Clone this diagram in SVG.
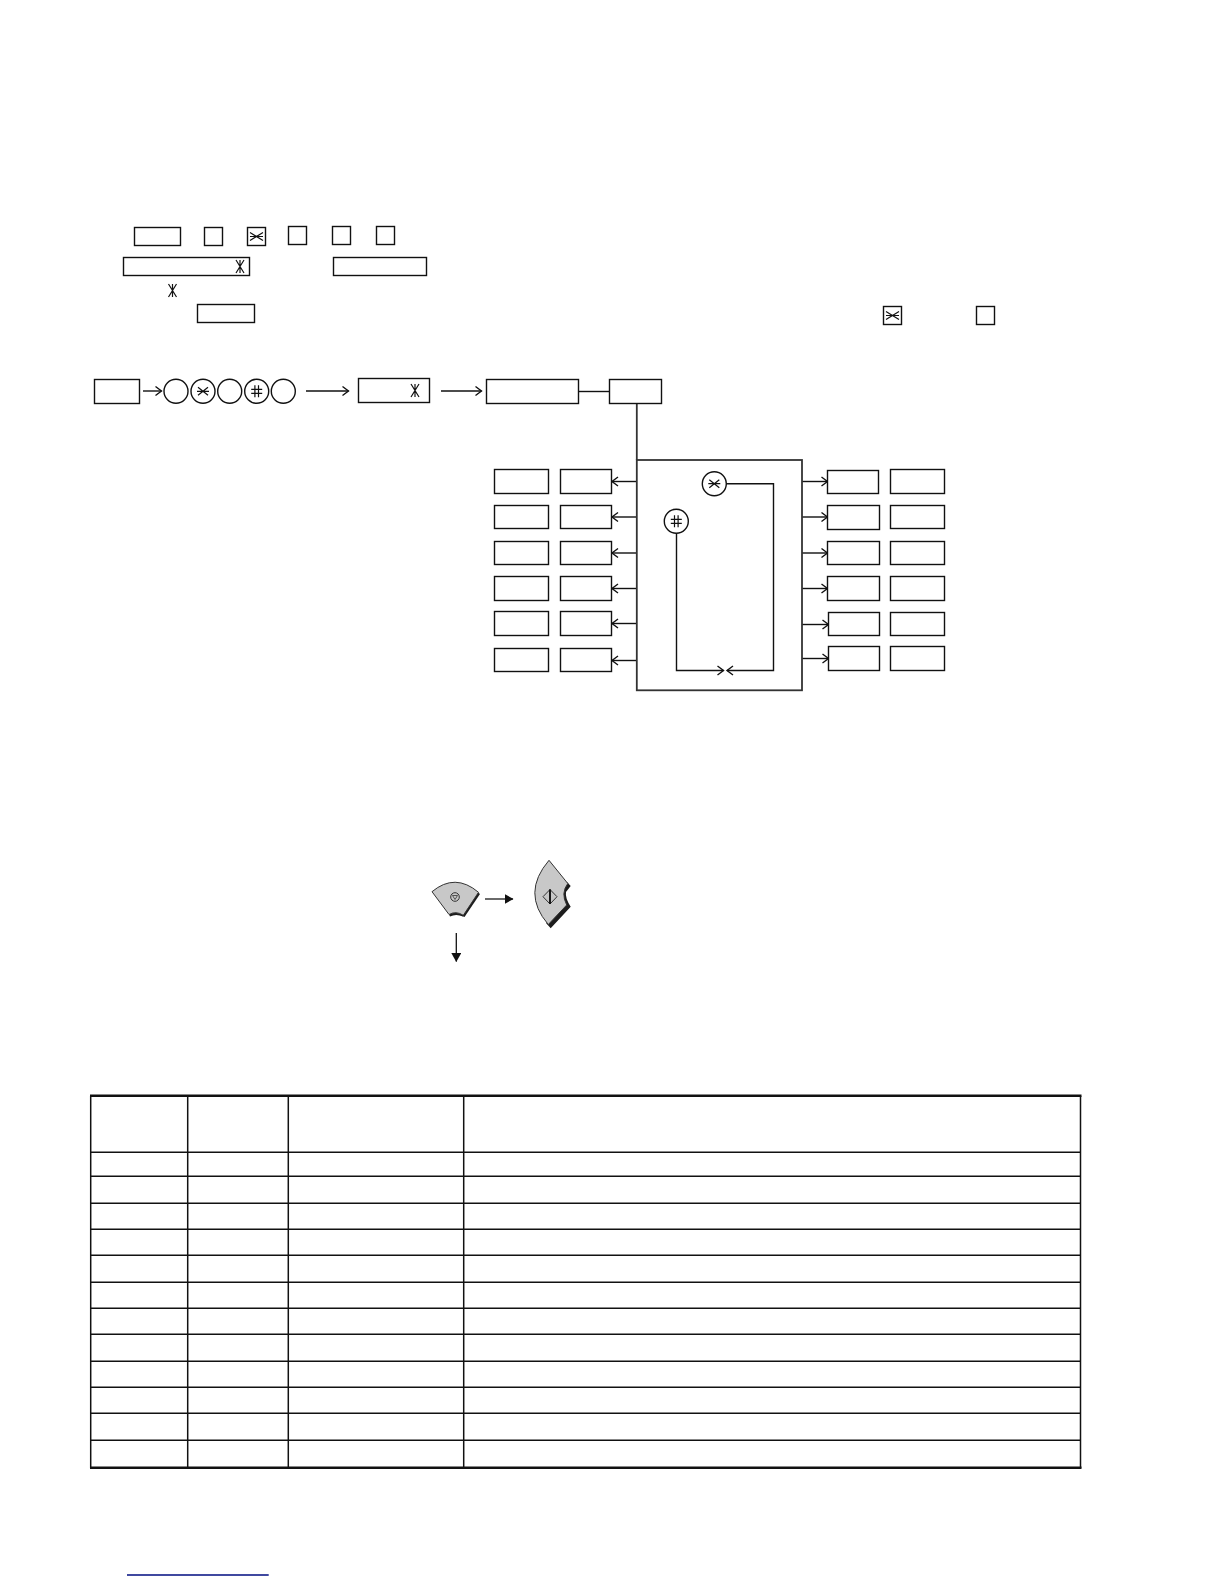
<svg xmlns="http://www.w3.org/2000/svg" width="1224" height="1584" viewBox="0 0 1224 1584">
<style>
.b{fill:#fff;stroke:#111;stroke-width:1.4}
.l{fill:none;stroke:#111;stroke-width:1.4}
.a{fill:none;stroke:#111;stroke-width:1.4;marker-end:url(#open)}
.g{fill:none;stroke:#333;stroke-width:1.8}
.s{fill:none;stroke:#111;stroke-width:1.2}
.t{fill:none;stroke:#111;stroke-width:1.5}
.tk{fill:none;stroke:#111;stroke-width:2.4}
.f{fill:#c8c8c8;stroke:#333;stroke-width:1}
.d{fill:#1c1c1c;stroke:none}
</style>
<defs>
<marker id="open" markerUnits="userSpaceOnUse" markerWidth="10" markerHeight="12" refX="8" refY="6" orient="auto">
<path d="M2 1.500L8 6L2 10.500" fill="none" stroke="#111" stroke-width="1.400"/>
</marker>
<marker id="solid" markerUnits="userSpaceOnUse" markerWidth="9" markerHeight="10" refX="8.500" refY="5" orient="auto">
<path d="M0 0L9 5L0 10Z" fill="#111"/>
</marker>
<g id="starV"><path class="s" d="M-4-6.500L4 6.500M4-6.500L-4 6.500M0-6.500V6.500"/></g>
<g id="starH"><path class="s" d="M-6.500-4L6.500 4M-6.500 4L6.500-4M-6.500 0H6.500"/></g>
<g id="starC"><path class="s" d="M-5-4L5 4M-5 4L5-4M-6 0H6"/></g>
<g id="hash"><path class="s" d="M-1.800-6V6M1.800-6V6M-5.500-2H5.500M-5.500 2H5.500"/></g>
</defs>
<rect width="1224" height="1584" fill="#fff"/>

<g id="keys-line1">
<rect id="k1" class="b" x="134.500" y="227.500" width="46" height="18"/>
<rect id="k2" class="b" x="204.500" y="227.500" width="18" height="18"/>
<g id="k3"><rect class="b" x="247.500" y="227.500" width="18" height="18"/><use href="#starH" x="256.500" y="236.500"/></g>
<rect id="k4" class="b" x="288.500" y="226.500" width="18" height="18"/>
<rect id="k5" class="b" x="332.500" y="226.500" width="18" height="18"/>
<rect id="k6" class="b" x="376.500" y="226.500" width="18" height="18"/>
</g>
<g id="keys-line2">
<g id="k7"><rect class="b" x="123.500" y="257.500" width="126" height="18"/><use href="#starV" x="240" y="266.500"/></g>
<rect id="k8" class="b" x="333.500" y="257.500" width="93" height="18"/>
</g>
<g id="star-line3"><use href="#starV" x="172.500" y="290.500"/></g>
<rect id="k9" class="b" x="197.500" y="304.500" width="57" height="18"/>
<g id="k10"><rect class="b" x="883.500" y="306.500" width="18" height="18"/><use href="#starH" x="892.500" y="315.500"/></g>
<rect id="k11" class="b" x="976.500" y="306.500" width="18" height="18"/>

<g id="connectors">
<path class="a" d="M143 391H161.500"/>
<path class="a" d="M306 391H348.500"/>
<path class="a" d="M441 391H481.500"/>
<path class="l" d="M578.500 391.500H609.500"/>
<path class="g" d="M636.800 403.500V460"/>
<path class="a" d="M637 481.500H612"/>
<path class="a" d="M637 517H612"/>
<path class="a" d="M637 553H612"/>
<path class="a" d="M637 588.500H612"/>
<path class="a" d="M637 623.500H612"/>
<path class="a" d="M637 660.500H612"/>
<path class="a" d="M802 481.500H827.500"/>
<path class="a" d="M802 517H827.500"/>
<path class="a" d="M802 553H827.500"/>
<path class="a" d="M802 588.500H827.500"/>
<path class="a" d="M802 624.500H828.500"/>
<path class="a" d="M802 658.500H828.500"/>
</g>

<rect id="n-start" class="b" x="94.500" y="379.500" width="45" height="24"/>
<g id="n-c1"><circle class="b" cx="176" cy="391.300" r="12"/></g>
<g id="n-c2"><circle class="b" cx="203" cy="391.300" r="12"/><use href="#starC" x="203" y="391.300"/></g>
<g id="n-c3"><circle class="b" cx="229.700" cy="391.300" r="12"/></g>
<g id="n-c4"><circle class="b" cx="256.700" cy="391.300" r="12"/><use href="#hash" x="256.700" y="391.300"/></g>
<g id="n-c5"><circle class="b" cx="283.300" cy="391.300" r="12"/></g>
<g id="n-mode"><rect class="b" x="358.500" y="378.500" width="71" height="24"/><use href="#starV" x="415" y="390.500"/></g>
<rect id="n-wide" class="b" x="486.500" y="379.500" width="92" height="24"/>
<rect id="n-small" class="b" x="609.500" y="379.500" width="52" height="24"/>

<g id="n-panel">
<rect class="g" fill="#fff" x="636.800" y="460" width="165.200" height="230.300"/>
<path class="l" d="M726.300 483.700H773.500V670.500H727" marker-end="url(#open)"/>
<path class="l" d="M676.500 533.300V670.500H723.500" marker-end="url(#open)"/>
<g id="n-star"><circle class="b" cx="714.300" cy="483.700" r="12"/><use href="#starC" x="714.300" y="483.700"/></g>
<g id="n-hash"><circle class="b" cx="676.300" cy="521.300" r="12"/><use href="#hash" x="676.300" y="521.300"/></g>
</g>

<g id="left-col">
<rect id="l1a" class="b" x="494.500" y="469.500" width="54" height="24"/><rect id="l1b" class="b" x="560.500" y="469.500" width="51" height="24"/>
<rect id="l2a" class="b" x="494.500" y="505.500" width="54" height="23"/><rect id="l2b" class="b" x="560.500" y="505.500" width="51" height="23"/>
<rect id="l3a" class="b" x="494.500" y="541.500" width="54" height="23"/><rect id="l3b" class="b" x="560.500" y="541.500" width="51" height="23"/>
<rect id="l4a" class="b" x="494.500" y="576.500" width="54" height="24"/><rect id="l4b" class="b" x="560.500" y="576.500" width="51" height="24"/>
<rect id="l5a" class="b" x="494.500" y="611.500" width="54" height="24"/><rect id="l5b" class="b" x="560.500" y="611.500" width="51" height="24"/>
<rect id="l6a" class="b" x="494.500" y="648.500" width="54" height="23"/><rect id="l6b" class="b" x="560.500" y="648.500" width="51" height="23"/>
</g>
<g id="right-col">
<rect id="r1a" class="b" x="827.500" y="470.500" width="51" height="23"/><rect id="r1b" class="b" x="890.500" y="469.500" width="54" height="24"/>
<rect id="r2a" class="b" x="827.500" y="505.500" width="52" height="24"/><rect id="r2b" class="b" x="890.500" y="505.500" width="54" height="23"/>
<rect id="r3a" class="b" x="827.500" y="541.500" width="52" height="23"/><rect id="r3b" class="b" x="890.500" y="541.500" width="54" height="23"/>
<rect id="r4a" class="b" x="827.500" y="576.500" width="52" height="24"/><rect id="r4b" class="b" x="890.500" y="576.500" width="54" height="24"/>
<rect id="r5a" class="b" x="828.500" y="612.500" width="51" height="23"/><rect id="r5b" class="b" x="890.500" y="612.500" width="54" height="23"/>
<rect id="r6a" class="b" x="828.500" y="646.500" width="51" height="24"/><rect id="r6b" class="b" x="890.500" y="646.500" width="54" height="24"/>
</g>

<g id="stop-key">
<path class="d" d="M478 892.500L480 894L464.500 917L462 916Z"/>
<path class="d" d="M449 914.500Q456 910.500 463.500 915L463 916.500Q456 913.500 450 916.500Z"/>
<path class="f" d="M432 891.700Q455 872.500 478.500 892.300L463.300 915.300Q456 910.500 449 914.500Z"/>
<circle cx="455" cy="897" r="4.300" fill="none" stroke="#333" stroke-width="1"/>
<path d="M452.500 895.500H457.500L455 899.500Z" fill="none" stroke="#333" stroke-width=".8"/>
</g>
<g id="start-key">
<path class="d" d="M567 882L570.700 886L566 892Q565 898 570.700 906.700L550.700 928.300L546 923L562 904L560 892Z"/>
<path class="f" d="M549 860.300L567.800 883.500Q560.500 893 566.700 905L548.300 924.500Q521 893 549 860.300Z"/>
<path d="M550 889.500L543 896.700L550 904Z" fill="none" stroke="#333" stroke-width="1"/>
<path d="M550 889.500L557 896.700L550 904Z" fill="none" stroke="#333" stroke-width="1"/>
<path d="M550 889.500V904" fill="none" stroke="#111" stroke-width="1.800"/>
</g>
<g id="key-arrows">
<path d="M485 899H513" stroke="#444" stroke-width="1.600" fill="none" marker-end="url(#solid)"/>
<path d="M456.300 933V961.500" stroke="#111" stroke-width="1.300" fill="none" marker-end="url(#solid)"/>
</g>

<g id="table">
<path class="t" d="M90.700 1096V1468M187.700 1096V1468M288.300 1096V1468M463.700 1096V1468M1080.500 1096V1468"/>
<path class="t" d="M90 1152.300H1081M90 1176.300H1081M90 1203.300H1081M90 1229.300H1081M90 1255.300H1081M90 1282.300H1081M90 1308.300H1081M90 1334.300H1081M90 1361.300H1081M90 1387.300H1081M90 1413.300H1081M90 1440.300H1081"/>
<path class="tk" d="M90 1095.700H1081.500M90 1467.700H1081.500"/>
</g>
<path id="underline" d="M127 1575H268.700" stroke="#000c80" stroke-width="1.400" fill="none"/>
</svg>
